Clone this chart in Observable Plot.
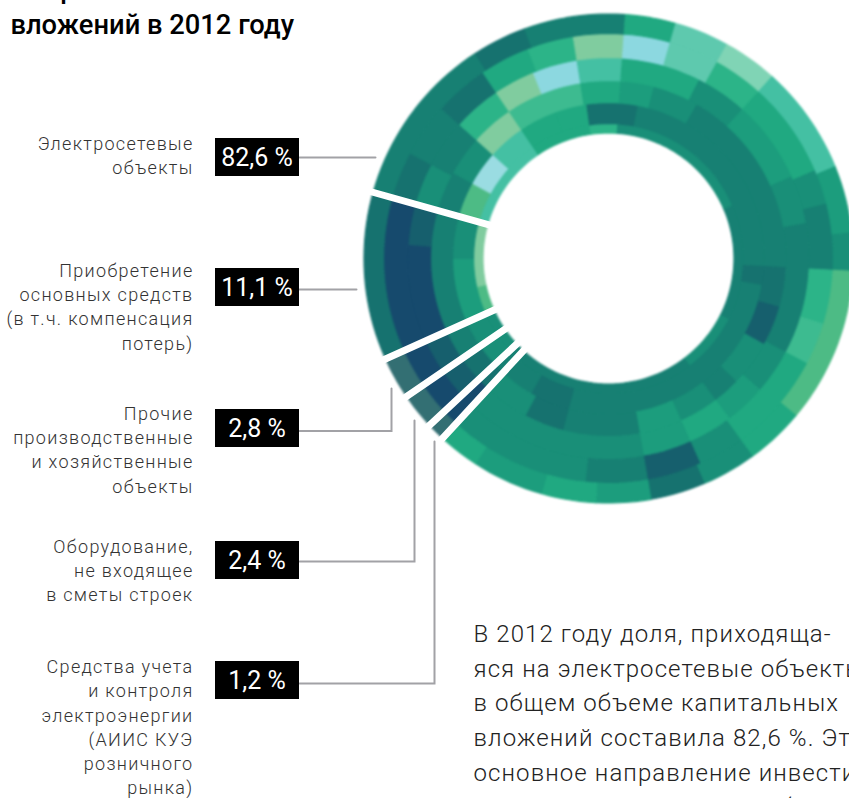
<!DOCTYPE html>
<html lang="ru">
<head>
<meta charset="utf-8">
<script src="https://cdn.jsdelivr.net/npm/d3@7"></script>
<script src="https://cdn.jsdelivr.net/npm/@observablehq/plot@0.6"></script>
<style>
html,body{margin:0;padding:0;background:#fff;overflow:hidden}
svg{display:block}
.lbl text{letter-spacing:1.3px}
.para text{letter-spacing:1.1px}
.mosaic{filter:blur(.8px)}
</style>
</head>
<body>
<div id="chart"></div>
<script>
// ---- data ----
const categories = [
  "Электросетевые\nобъекты",
  "Приобретение\nосновных средств\n(в т.ч. компенсация\nпотерь)",
  "Прочие\nпроизводственные\nи хозяйственные\nобъекты",
  "Оборудование,\nне входящее\nв сметы строек",
  "Средства учета\nи контроля\nэлектроэнергии\n(АИИС КУЭ\nрозничного\nрынка)"
];
const shares = [82.6, 11.1, 2.8, 2.4, 1.2];
const shareLabels = ["82,6 %", "11,1 %", "2,8 %", "2,4 %", "1,2 %"];
const titleLines = ["Направления капитальных", "вложений в 2012 году"];
const paragraph = [
  "В 2012 году доля, приходяща-",
  "яся на электросетевые объекты",
  "в общем объеме капитальных",
  "вложений составила 82,6 %. Это",
  "основное направление инвести-",
  "ционной деятельности. Объем"
];
// mosaic: per ring, [end angle in degrees clockwise from north, shade]; rings run inner to outer from 223 degrees
const ring0 = [[227.5,"d"],[236,"e"],[246,"e"],[258,"n"],[286,"m"],[326,"i"],[352,"g"],[364,"h"],[427,"e"],[477,"d"],[503,"e"],[583,"d"]];
const ring1 = [[227.5,"d"],[246,"e"],[270,"f"],[286,"e"],[299,"n"],[312,"q"],[326,"i"],[340,"g"],[352,"g"],[371,"c"],[453,"d"],[460,"c"],[555,"d"],[570,"c"],[583,"d"]];
const ring2 = [[227.5,"c"],[236,"c"],[246,"d"],[286,"d"],[299,"d"],[312,"e"],[326,"m"],[351,"o"],[364,"g"],[375,"f"],[390,"e"],[453,"d"],[466,"c"],[479,"b"],[494,"e"],[503,"d"],[516,"e"],[530,"f"],[555,"d"],[568,"c"],[583,"e"]];
const ring3 = [[227.5,"a"],[246,"b"],[274,"a"],[286,"b"],[298,"e"],[312,"d"],[326,"h"],[338,"m"],[351,"l"],[364,"i"],[387,"g"],[402,"e"],[426,"f"],[440,"e"],[478,"d"],[491,"e"],[503,"f"],[516,"g"],[530,"f"],[583,"e"]];
const ring4 = [[286,"a"],[298,"c"],[312,"d"],[326,"c"],[339,"g"],[351,"h"],[364,"m"],[376,"l"],[389,"j"],[402,"h"],[427,"g"],[436,"e"],[453,"d"],[467,"h"],[478,"o"],[504,"g"],[516,"e"],[530,"b"],[546,"d"],[583,"e"]];
const ring5 = [[246,"p"],[286,"c"],[327,"d"],[340,"c"],[364,"d"],[376,"g"],[389,"j"],[402,"k"],[428,"i"],[444,"f"],[453,"e"],[490,"n"],[504,"g"],[517,"e"],[530,"c"],[543,"f"],[556,"g"],[573,"f"],[583,"g"]];
const rings = [ring0, ring1, ring2, ring3, ring4, ring5];
const shadeKeys = [..."abcdefghijklmnopq"];

// ---- layout and styling ----
const W = 849, H = 798;
const cx = 608, cy = 258;
const ringRadii = [125.5, 135, 156, 178, 201, 225, 244.5];
const shadeColors = ["#164a6d","#165f6d","#16726f","#178073","#198f78","#1c9d7d","#20a981","#2cb488",
                     "#44c0a3","#5ec9ae","#80d4b5","#8cd8e0","#80cc9f","#4dbb85","#3dbb90","#336f73","#9adce2"];
const startAngle = 285.7;
const labelY = [154, 305, 448, 569, 725.5];
const boxY = [157, 287, 428, 560, 680];
const boxLeft = 215, boxRight = 299, boxH = 38;
const leaderX = [375, 356, 391, 414, 434];
const leaderTop = [null, null, 388, 420, 441];
const leaderY = [157, 289, 430.5, 561, 683];

// ---- derived geometry, from the shares and the rings ----
const pt = (r, a) => ({x: cx + r * Math.sin(a * Math.PI / 180), y: cy - r * Math.cos(a * Math.PI / 180)});
const cellPoly = [];
let cellId = 0;
rings.forEach((ring, k) => {
  let a0 = 223;
  for (const [a1, shade] of ring) {
    const id = cellId++;
    const steps = Math.max(1, Math.ceil((a1 - a0) / 2));
    const r0 = ringRadii[k], r1 = ringRadii[k + 1];
    for (let i = 0; i <= steps; i++) cellPoly.push({id, shade, ...pt(r1, a0 + (a1 - a0) * i / steps)});
    for (let i = steps; i >= 0; i--) cellPoly.push({id, shade, ...pt(r0, a0 + (a1 - a0) * i / steps)});
    a0 = a1;
  }
});
// the main sector runs clockwise from the start angle; the four small ones run back from it
const gaps = [];
let edge = startAngle;
[...shares.slice(1), 0].forEach((s, i) => {
  gaps.push({id: i, ...pt(112, edge)}, {id: i, ...pt(255, edge)});
  edge -= s * 3.6;
});
const leaders = [];
leaderX.forEach((x, i) => {
  leaders.push({id: i, x: boxRight, y: leaderY[i]}, {id: i, x, y: leaderY[i]});
  if (leaderTop[i] != null) leaders.push({id: i, x, y: leaderTop[i]});
});
const rows = categories.map((c, i) => ({c, label: shareLabels[i], ly: labelY[i], by: boxY[i]}));

const svg = Plot.plot({
  width: W, height: H,
  margin: 0,
  x: {domain: [0, W], range: [0, W], axis: null},
  y: {domain: [0, H], range: [0, H], axis: null},
  color: {type: "ordinal", domain: shadeKeys, range: shadeColors},
  style: {background: "#fff", overflow: "hidden"},
  marks: [
    Plot.line(cellPoly, {x: "x", y: "y", z: "id", fill: "shade", stroke: "shade", strokeWidth: 1.2, curve: "linear-closed", className: "mosaic"}),
    Plot.line(gaps, {x: "x", y: "y", z: "id", stroke: "#fff", strokeWidth: 7}),
    Plot.line(leaders, {x: "x", y: "y", z: "id", stroke: "#a2a2a6", strokeWidth: 2, strokeLinejoin: "miter", strokeMiterlimit: 4}),
    Plot.rect(rows, {x1: () => boxLeft, x2: () => boxRight, y1: d => d.by - boxH / 2, y2: d => d.by + boxH / 2, fill: "#000"}),
    Plot.text(rows, {x: () => 256.5, y: d => d.by, text: "label", fill: "#fff", fontFamily: "Roboto", fontSize: 25, fontWeight: 400, textAnchor: "middle"}),
    Plot.text(rows, {x: () => 193, y: "ly", text: "c", textAnchor: "end", lineHeight: 1.344, fill: "#333", fontFamily: "Roboto", fontSize: 18, fontWeight: 300, className: "lbl"}),
    Plot.text(titleLines, {x: () => 10, y: (d, i) => i ? 25 : -11, text: d => d, textAnchor: "start", fill: "#000", fontFamily: "Roboto", fontSize: 27.3, fontWeight: 500}),
    Plot.text(paragraph, {x: () => 473, y: (d, i) => 634 + i * 34.6, text: d => d, textAnchor: "start", fill: "#222", fontFamily: "Roboto", fontSize: 24, fontWeight: 300, className: "para"})
  ]
});
document.getElementById("chart").append(svg);
</script>
</body>
</html>
